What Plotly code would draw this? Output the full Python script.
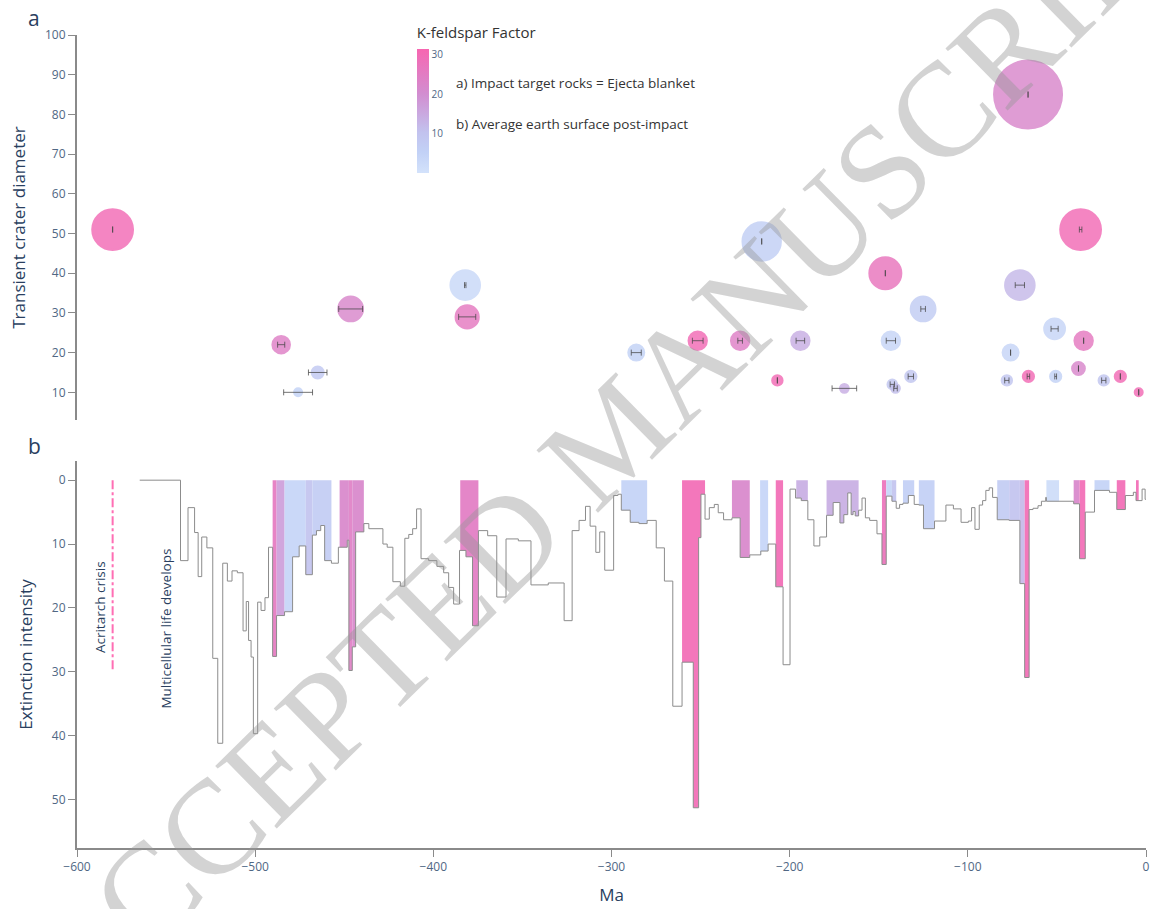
import plotly.graph_objects as go
from plotly.colors import sample_colorscale

# ---------------- Panel a: impacts ----------------
impact_age = [-580.0, -485.4, -464.9, -475.9, -446.4, -382.1, -381.0, -286.1, -251.6, -227.8,
              -194.0, -215.7, -206.9, -66.2, -36.7, -146.3, -125.1, -143.2, -70.8, -51.3,
              -35.0, -76.0, -37.9, -132.0, -142.4, -140.6, -78.1, -66.0, -50.7, -23.7,
              -14.4, -4.1, -169.3]
impact_err = [0.0, 2.0, 5.2, 8.1, 6.7, 0.4, 4.8, 2.8, 3.0, 1.3,
              2.4, 0.0, 0.0, 0.0, 0.7, 0.0, 1.3, 2.6, 2.6, 2.0,
              0.0, 0.0, 0.0, 1.5, 1.2, 1.0, 1.2, 0.7, 0.5, 1.2,
              0.0, 0.0, 6.9]
impact_diam = [51, 22, 15, 10, 31, 37, 29, 20, 23, 23,
               23, 48, 13, 85, 51, 40, 31, 23, 37, 26,
               23, 20, 16, 14, 12, 11, 13, 14, 14, 13,
               14, 10, 11]
impact_kfs = [30, 24, 8, 5, 22, 3, 26, 5, 30, 24,
              14, 6, 30, 22, 30, 27, 7, 4, 12, 4,
              26, 4, 22, 9, 9, 11, 9, 30, 5, 9,
              30, 30, 14]

# ---------------- Panel b: extinction intensity (step) ----------------
ext_age = [-564.8, -541.9, -537.7, -534.0, -532.0, -530.0, -527.1, -523.8, -521.0, -518.2,
           -515.6, -513.0, -510.0, -506.8, -505.0, -503.7, -502.3, -501.0, -498.6, -496.7,
           -494.5, -492.5, -490.2, -488.0, -483.5, -479.0, -475.3, -471.6, -467.9, -465.6,
           -463.2, -461.0, -457.2, -453.3, -448.3, -447.4, -445.5, -443.6, -439.0, -436.2,
           -428.3, -425.9, -422.7, -418.5, -416.0, -413.8, -411.6, -409.4, -406.9, -402.6,
           -398.0, -394.2, -391.4, -388.6, -385.3, -381.7, -378.0, -374.7, -369.5, -364.4,
           -359.2, -352.3, -345.2, -335.5, -326.6, -322.1, -318.2, -314.6, -312.0, -308.8,
           -306.6, -303.8, -298.8, -296.4, -294.5, -289.5, -284.6, -280.0, -274.9, -270.3,
           -265.6, -260.4, -254.1, -251.1, -249.8, -247.5, -245.1, -242.3, -240.1, -237.1,
           -232.4, -227.8, -222.4, -216.2, -212.1, -207.8, -203.7, -199.8, -196.7, -193.5,
           -189.8, -186.4, -183.1, -179.3, -175.6, -171.8, -169.6, -167.4, -165.5, -164.4,
           -163.2, -161.3, -159.4, -157.5, -155.1, -151.0, -148.2, -145.8, -142.6, -140.2,
           -138.3, -136.4, -133.4, -130.1, -127.5, -124.9, -118.7, -112.3, -108.1, -103.8,
           -99.7, -97.9, -96.0, -93.6, -91.7, -89.9, -88.0, -86.1, -83.5, -76.8,
           -70.8, -68.1, -65.6, -63.4, -60.6, -58.7, -56.3, -55.9, -40.6, -37.3,
           -34.1, -28.9, -20.5, -16.4, -11.6, -7.1, -5.6, -2.2, -0.5, 0.0]
ext_val = [0.0, 12.6, 4.3, 8.2, 15.1, 8.9, 10.6, 27.9, 41.2, 13.0,
           15.8, 14.2, 14.5, 23.6, 19.0, 25.1, 27.7, 39.7, 19.1, 20.4,
           18.4, 10.5, 27.6, 21.2, 20.6, 12.0, 10.3, 14.8, 8.6, 7.9,
           7.1, 12.6, 13.0, 10.5, 9.4, 29.8, 26.1, 8.1, 6.8, 7.6,
           10.0, 10.5, 15.9, 16.6, 9.1, 8.5, 7.6, 4.5, 12.3, 12.6,
           13.5, 14.5, 16.8, 19.4, 11.0, 12.0, 22.8, 7.9, 8.7, 18.3,
           9.2, 9.5, 16.4, 16.1, 22.0, 7.9, 6.3, 4.1, 7.2, 11.3,
           8.1, 14.1, 2.4, 2.2, 4.7, 6.6, 6.8, 6.3, 10.6, 15.8,
           35.4, 28.5, 51.3, 9.0, 2.2, 6.1, 4.3, 3.8, 5.1, 6.2,
           5.9, 12.1, 11.7, 11.1, 10.0, 16.7, 28.9, 1.4, 2.8, 3.2,
           6.2, 10.3, 8.9, 5.5, 3.5, 6.7, 5.4, 2.0, 5.4, 4.9,
           5.6, 4.7, 2.8, 5.9, 6.3, 8.4, 13.2, 2.5, 3.3, 4.4,
           3.8, 3.6, 2.4, 3.8, 3.9, 7.6, 6.4, 3.9, 4.5, 6.6,
           6.4, 4.3, 7.7, 3.9, 3.2, 1.6, 1.2, 2.7, 6.2, 6.3,
           16.2, 30.9, 4.6, 4.4, 4.0, 3.3, 2.7, 3.3, 3.7, 12.3,
           5.0, 1.6, 1.9, 4.6, 2.4, 1.9, 3.2, 1.4, 3.0, 3.0]

# impact windows shaded in panel b (K-feldspar factor for average post-impact surface)
bar_start = [-490.2, -488.0, -483.5, -471.6, -467.9, -452.6, -447.4, -445.5, -384.9, -294.5,
             -260.4, -232.4, -216.6, -207.8, -196.3, -179.3, -148.2, -145.8, -142.6, -136.4,
             -127.5, -83.5, -76.8, -70.8, -68.1, -55.9, -40.6, -37.3, -28.9, -16.4, -5.6]
bar_end = [-488.0, -483.5, -471.6, -467.9, -457.2, -447.4, -445.5, -439.0, -374.7, -280.0,
           -247.5, -222.4, -212.1, -203.7, -189.8, -161.3, -145.8, -142.6, -140.2, -130.1,
           -118.7, -76.8, -70.8, -68.1, -65.6, -48.8, -37.3, -34.1, -20.5, -11.6, -4.1]
bar_kfs = [26, 17, 4, 10, 7, 22, 24, 22, 25, 5,
           30, 22, 4, 30, 14, 14, 28, 4, 10, 6,
           6, 7, 10, 12, 30, 2, 22, 30, 5, 30, 30]

# reference lines / labels
acritarch_age = -580.0
acritarch_span = [0, 30]

x_ticks = [-600, -500, -400, -300, -200, -100, 0]
ya_ticks = [10, 20, 30, 40, 50, 60, 70, 80, 90, 100]
yb_ticks = [0, 10, 20, 30, 40, 50]
cb_ticks = [10, 20, 30]

COLORSCALE = [[0.0, '#d3e2fb'], [0.17, '#c2d1f6'], [0.33, '#c2c2ee'],
              [0.64, '#d28dd0'], [1.0, '#f766b1']]
CMIN, CMAX = 0.0, 31.5

TICK_COL = '#506784'
TITLE_COL = '#2a3f5f'
AXIS_COL = '#8a8a8a'

W, H = 1157, 909
ML, MR, MT, MB = 77, 7, 35, 57
PW, PH = W - ML - MR, H - MT - MB


def px_to_paper(px, py):
    return (px - ML) / PW, (H - MB - py) / PH


def step_value(t):
    v = ext_val[0]
    for a, val in zip(ext_age, ext_val):
        if a <= t + 1e-9:
            v = val
        else:
            break
    return v


fig = go.Figure()

# ---- panel b shaded windows ----
for s, e, k in zip(bar_start, bar_end, bar_kfs):
    xs = [s] + [a for a in ext_age if s < a < e] + [e]
    ys = [step_value(x) for x in xs[:-1]]
    ys.append(ys[-1])
    col = sample_colorscale(COLORSCALE, [(k - CMIN) / (CMAX - CMIN)])[0]
    col = col.replace('rgb(', 'rgba(').replace(')', ',0.92)')
    fig.add_trace(go.Scatter(x=xs, y=ys, mode='lines', line=dict(width=0, shape='hv'),
                             fill='tozeroy', fillcolor=col, xaxis='x2', yaxis='y2',
                             hoverinfo='skip'))

# ---- panel b step line ----
fig.add_trace(go.Scatter(x=ext_age, y=ext_val, mode='lines',
                         line=dict(color='#8c8c8c', width=1, shape='hv'),
                         xaxis='x2', yaxis='y2'))

# ---- acritarch crisis line ----
fig.add_trace(go.Scatter(x=[acritarch_age, acritarch_age], y=acritarch_span, mode='lines',
                         line=dict(color='#ff6eb4', width=2, dash='dashdot'),
                         xaxis='x2', yaxis='y2'))

# ---- panel a bubbles ----
cb_x, cb_top = px_to_paper(418, 24)
fig.add_trace(go.Scatter(
    x=impact_age, y=impact_diam, mode='markers', xaxis='x', yaxis='y',
    marker=dict(size=impact_diam, sizemode='diameter', sizeref=1.25,
                color=impact_kfs, colorscale=COLORSCALE, cmin=CMIN, cmax=CMAX,
                opacity=0.82,
                line=dict(color=impact_kfs, colorscale=COLORSCALE, cmin=CMIN, cmax=CMAX, width=2),
                colorbar=dict(
                    x=cb_x, xanchor='left', xpad=0,
                    y=cb_top, yanchor='top', ypad=0,
                    len=149, lenmode='pixels', thickness=12,
                    outlinewidth=0, ticks='', tickvals=cb_ticks,
                    tickfont=dict(size=10, color=TICK_COL),
                    title=dict(text='K-feldspar Factor', side='top',
                               font=dict(size=15, color='#333'))))))
fig.add_trace(go.Scatter(
    x=impact_age, y=impact_diam, mode='markers', xaxis='x', yaxis='y',
    marker=dict(size=2, opacity=0),
    error_x=dict(type='data', array=impact_err, symmetric=True,
                 color='rgba(70,70,70,0.75)', thickness=1, width=3)))

axis_common = dict(showline=True, linecolor=AXIS_COL, linewidth=2, ticks='outside',
                   ticklen=7, tickcolor=AXIS_COL, tickwidth=1, showgrid=False, zeroline=False,
                   tickfont=dict(size=12, color=TICK_COL))

fig.update_layout(
    width=W, height=H,
    margin=dict(l=ML, r=MR, t=MT, b=MB),
    paper_bgcolor='white', plot_bgcolor='white',
    showlegend=False,
    font=dict(family='Open Sans, Verdana, sans-serif', color=TITLE_COL),
    xaxis=dict(domain=[0, 1], anchor='y', range=[-600, 0], matches='x2',
               showline=False, showticklabels=False, ticks='', showgrid=False, zeroline=False),
    yaxis=dict(domain=[0.5263, 1], anchor='x', range=[3, 100], tickvals=ya_ticks,
               title=dict(text='Transient crater diameter', font=dict(size=17, color=TITLE_COL)),
               **axis_common),
    xaxis2=dict(domain=[0, 1], anchor='y2', range=[-600, 0], tickvals=x_ticks,
                title=dict(text='Ma', font=dict(size=17, color=TITLE_COL)),
                **axis_common),
    yaxis2=dict(domain=[0, 0.476], anchor='x2', range=[57.6, -3], tickvals=yb_ticks,
                title=dict(text='Extinction intensity', font=dict(size=17, color=TITLE_COL)),
                **axis_common),
)

ax_, ay_ = px_to_paper(34, 18)
bx_, by_ = px_to_paper(34, 448)
t1x, t1y = px_to_paper(455, 83)
t2x, t2y = px_to_paper(455, 124)
wx, wy = px_to_paper(615, 437)
annotations = [
    dict(text='a', x=ax_, y=ay_, xref='paper', yref='paper', showarrow=False,
         font=dict(size=21, color=TITLE_COL), xanchor='center', yanchor='middle'),
    dict(text='b', x=bx_, y=by_, xref='paper', yref='paper', showarrow=False,
         font=dict(size=21, color=TITLE_COL), xanchor='center', yanchor='middle'),
    dict(text='a) Impact target rocks = Ejecta blanket', x=t1x, y=t1y, xref='paper',
         yref='paper', showarrow=False, xanchor='left', yanchor='middle',
         font=dict(size=13.5, color='#333')),
    dict(text='b) Average earth surface post-impact', x=t2x, y=t2y, xref='paper',
         yref='paper', showarrow=False, xanchor='left', yanchor='middle',
         font=dict(size=13.5, color='#333')),
    dict(text='Acritarch crisis', x=-587.2, y=19.9, xref='x2', yref='y2', showarrow=False,
         textangle=-90, font=dict(size=13.5, color=TITLE_COL)),
    dict(text='Multicellular life develops', x=-549.9, y=23.2, xref='x2', yref='y2',
         showarrow=False, textangle=-90, font=dict(size=13.5, color=TITLE_COL)),
    dict(text='ACCEPTED MANUSCRIPT', x=wx, y=wy,
         xref='paper', yref='paper', showarrow=False, textangle=-44.5,
         xanchor='center', yanchor='middle',
         font=dict(family='Liberation Serif, Times New Roman, serif', size=134,
                   color='rgba(150,150,150,0.42)')),
]
fig.update_layout(annotations=annotations)

fig.write_html('out.html', config={'displayModeBar': False},
               post_script="document.body.style.margin='0px';"
                           "document.body.style.overflow='hidden';")
